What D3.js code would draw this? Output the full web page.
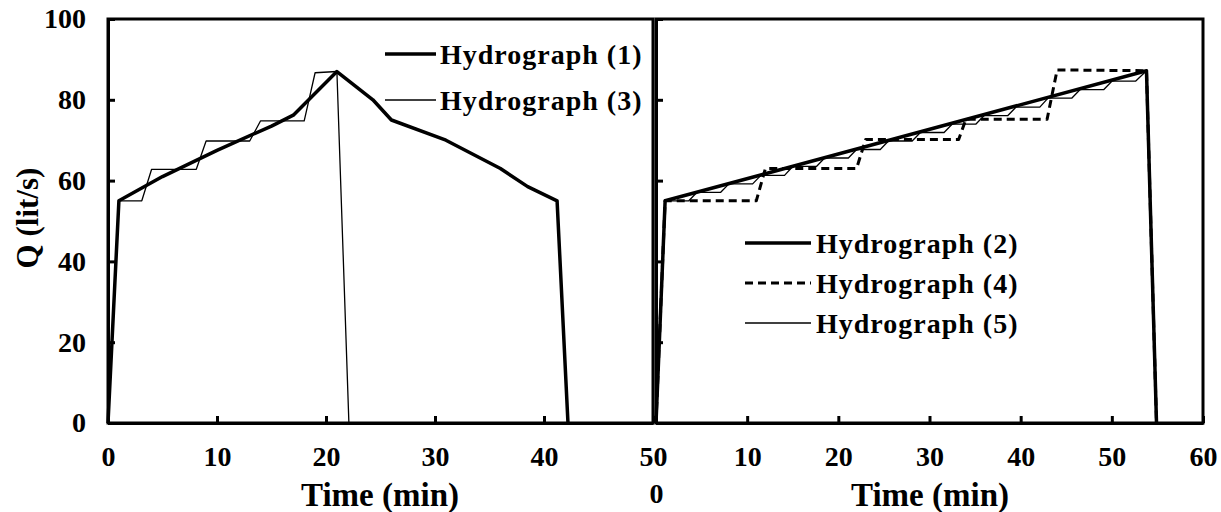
<!DOCTYPE html>
<html><head><meta charset="utf-8">
<script src="https://cdn.jsdelivr.net/npm/d3@7"></script>
<style>
body{margin:0;background:#fff}
svg{display:block}
text{font-family:"Liberation Serif","Times New Roman",serif;font-weight:bold;fill:#000}
</style>
</head><body><svg id="c" width="1221" height="512"></svg>
<script>
// ---- data ----
const h1T = [0, 1, 5, 10, 15, 17, 21, 24.3, 26, 31, 36, 38.5, 41.2, 42.2];
const h1Q = [0, 55, 61, 67.5, 73.5, 76.2, 87, 80, 75, 70, 63, 58.5, 55, 0];
const h3T = [0, 1, 3.1, 4, 8.1, 9, 13, 14, 18, 19, 21, 22.1];
const h3Q = [0, 55, 55, 62.8, 62.8, 69.8, 69.8, 74.8, 74.8, 86.7, 87, 0];
const h2T = [0, 1, 53.8, 54.9];
const h2Q = [0, 55, 87.2, 0];
const h4T = [0, 1, 11, 12, 22, 23, 33.2, 34, 42.9, 44, 53.8, 54.9];
const h4Q = [0, 55, 55, 63, 63, 70.2, 70.2, 75.2, 75.2, 87.4, 87.2, 0];
const h5T = [0, 1, 3.6, 4.5, 7.1, 8, 10.6, 11.5, 14.1, 15, 17.6, 18.5, 21.1, 22, 24.6, 25.5, 28.1, 29,
             31.6, 32.5, 35.1, 36, 38.6, 39.5, 42.1, 43, 45.6, 46.5, 49.1, 50, 52.6, 53.8, 54.9];
const h5Q = [0, 55, 55, 57.1, 57.1, 59.2, 59.2, 61.3, 61.3, 63.5, 63.5, 65.6, 65.6, 67.7, 67.7, 69.8, 69.8, 71.9,
             71.9, 74.0, 74.0, 76.1, 76.1, 78.2, 78.2, 80.4, 80.4, 82.5, 82.5, 84.6, 84.6, 87.2, 0];
const yTicks = [0, 20, 40, 60, 80, 100];
const xTicksLeft = [0, 10, 20, 30, 40, 50];
const xTicksRight = [0, 10, 20, 30, 40, 50, 60];
const legendLeft = ["Hydrograph (1)", "Hydrograph (3)"];
const legendRight = ["Hydrograph (2)", "Hydrograph (4)", "Hydrograph (5)"];
const xTitle = "Time (min)";
const yTitle = "Q (lit/s)";

// ---- layout ----
const svg = d3.select("#c");
const plotTop = 19, plotBottom = 423;
const y = d3.scaleLinear().domain([0, 100]).range([plotBottom, plotTop]);
const xL = d3.scaleLinear().domain([0, 50]).range([108, 653]);
const xR = d3.scaleLinear().domain([0, 60]).range([656, 1203]);
const FS = 28;

function zip(t, q) { return t.map((d, i) => [d, q[i]]); }

function panel(x, xTicks, showY) {
  const g = svg.append("g");
  const [x0, x1] = x.range();
  g.append("rect").attr("x", x0).attr("y", plotTop).attr("width", x1 - x0).attr("height", plotBottom - plotTop)
    .attr("fill", "#fff").attr("stroke", "#000").attr("stroke-width", 3);
  const ax = g.append("g").attr("transform", `translate(0,${plotBottom})`)
    .call(d3.axisBottom(x).tickValues(xTicks).tickSize(-7).tickSizeOuter(0).tickPadding(23));
  const ay = g.append("g").attr("transform", `translate(${x0},0)`)
    .call(d3.axisLeft(y).tickValues(yTicks).tickSize(-7).tickSizeOuter(0).tickPadding(22)
      .tickFormat(showY ? d3.format("d") : () => ""));
  [ax, ay].forEach(a => {
    a.select(".domain").attr("stroke-width", 3);
    a.selectAll(".tick line").attr("stroke-width", 3);
    a.attr("font-family", null).attr("font-size", null);
    a.selectAll("text").attr("font-size", FS);
  });
  return {g, ax, ay};
}

const L = panel(xL, xTicksLeft, true);
const R = panel(xR, xTicksRight, false);
// the right panel's "0" label sits on a lower line in the reference
R.ax.selectAll(".tick").filter(d => d === 0).select("text").attr("y", 60);

function drawLine(g, x, t, q, w, dash) {
  g.append("path").datum(zip(t, q))
    .attr("d", d3.line().x(d => x(d[0])).y(d => y(d[1])))
    .attr("fill", "none").attr("stroke", "#000").attr("stroke-width", w)
    .attr("stroke-linejoin", "round")
    .attr("stroke-dasharray", dash || null);
}
drawLine(L.g, xL, h3T, h3Q, 1.3);
drawLine(L.g, xL, h1T, h1Q, 3.5);
drawLine(R.g, xR, h5T, h5Q, 1.3);
drawLine(R.g, xR, h4T, h4Q, 3, "8,5");
drawLine(R.g, xR, h2T, h2Q, 3.5);

// legends
const legStyleL = [{w: 3.5}, {w: 1.3}];
legendLeft.forEach((s, i) => {
  const yy = 54 + i * 46;
  svg.append("line").attr("x1", 385).attr("x2", 436).attr("y1", yy).attr("y2", yy)
    .attr("stroke", "#000").attr("stroke-width", legStyleL[i].w);
  svg.append("text").attr("x", 440).attr("y", yy).attr("dy", "0.35em").attr("font-size", FS)
    .attr("letter-spacing", 1).text(s);
});
const legStyleR = [{w: 3.5}, {w: 3, dash: "8,5"}, {w: 1.3}];
legendRight.forEach((s, i) => {
  const yy = 243 + i * 40;
  svg.append("line").attr("x1", 745).attr("x2", 811).attr("y1", yy).attr("y2", yy)
    .attr("stroke", "#000").attr("stroke-width", legStyleR[i].w)
    .attr("stroke-dasharray", legStyleR[i].dash || null);
  svg.append("text").attr("x", 816).attr("y", yy).attr("dy", "0.35em").attr("font-size", FS)
    .attr("letter-spacing", 1).text(s);
});

// axis titles
svg.append("text").attr("x", 380).attr("y", 506).attr("text-anchor", "middle").attr("font-size", 33).text(xTitle);
svg.append("text").attr("x", 930).attr("y", 506).attr("text-anchor", "middle").attr("font-size", 33).text(xTitle);
svg.append("text").attr("transform", "translate(38,218) rotate(-90)").attr("text-anchor", "middle")
  .attr("font-size", 31).text(yTitle);
</script>
</body></html>
